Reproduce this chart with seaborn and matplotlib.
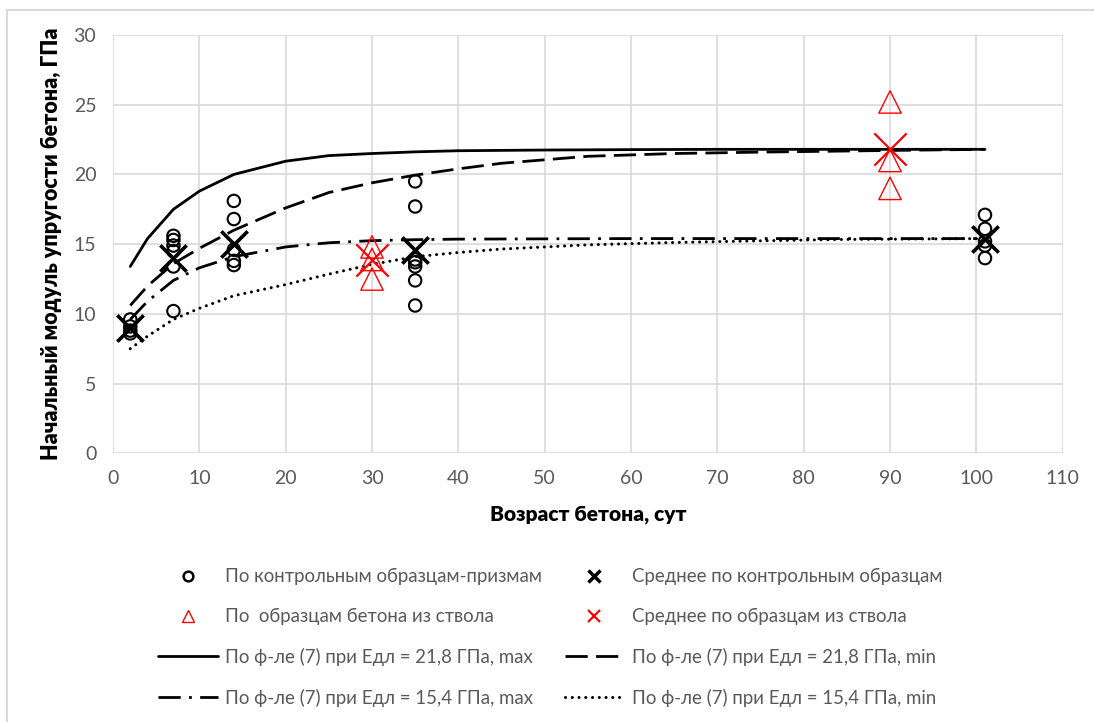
import numpy as np
import pandas as pd
import matplotlib
matplotlib.use("Agg")
import matplotlib.pyplot as plt
from matplotlib.lines import Line2D
import seaborn as sns

# control prisms: age (days) and modulus (GPa)
ctrl_age = [2, 2, 2, 2,
            7, 7, 7, 7, 7, 7,
            14, 14, 14, 14, 14,
            35, 35, 35, 35, 35, 35, 35,
            101, 101, 101, 101, 101]
ctrl_E = [9.6, 9.1, 8.8, 8.6,
          15.6, 15.3, 14.9, 14.5, 13.4, 10.2,
          18.1, 16.8, 14.6, 13.8, 13.5,
          19.5, 17.7, 13.9, 13.7, 13.4, 12.4, 10.6,
          17.1, 16.1, 15.2, 14.9, 14.0]
ctrl_mean_age = [2, 7, 14, 35, 101]
ctrl_mean_E = [9.0, 14.0, 15.0, 14.6, 15.4]

# samples from the shaft
trunk_age = [30, 30, 30, 90, 90, 90]
trunk_E = [14.8, 13.9, 12.5, 25.2, 21.0, 19.0]
trunk_mean_age = [30, 90]
trunk_mean_E = [13.85, 21.8]

# formula (7) curves
c218max_x = [2, 4, 7, 10, 14, 20, 25, 30, 35, 40, 50, 60, 70, 80, 90, 101]
c218max_y = [13.4, 15.4, 17.5, 18.8, 20.0, 20.95, 21.35, 21.5, 21.62, 21.7,
             21.75, 21.78, 21.8, 21.8, 21.8, 21.8]
c218min_x = [2, 4, 7, 10, 14, 20, 25, 30, 35, 40, 45, 50, 55, 65, 75, 90, 101]
c218min_y = [10.6, 12.0, 13.6, 14.7, 16.0, 17.6, 18.7, 19.4, 19.95, 20.4,
             20.8, 21.05, 21.3, 21.5, 21.6, 21.72, 21.8]
c154max_x = [2, 4, 7, 10, 14, 20, 25, 30, 35, 40, 50, 60, 70, 80, 90, 101]
c154max_y = [9.6, 10.9, 12.4, 13.3, 14.1, 14.8, 15.1, 15.25, 15.32, 15.36,
             15.38, 15.4, 15.4, 15.4, 15.4, 15.4]
c154min_x = [2, 4, 7, 10, 14, 20, 25, 30, 35, 40, 45, 55, 65, 75, 85, 101]
c154min_y = [7.5, 8.4, 9.6, 10.4, 11.3, 12.1, 12.85, 13.55, 14.1, 14.4,
             14.65, 14.95, 15.12, 15.24, 15.34, 15.4]

labels = [
    "По контрольным образцам-призмам",
    "Среднее по контрольным образцам",
    "По  образцам бетона из ствола",
    "Среднее по образцам из ствола",
    "По ф-ле (7) при Едл = 21,8 ГПа, max",
    "По ф-ле (7) при Едл = 21,8 ГПа, min",
    "По ф-ле (7) при Едл = 15,4 ГПа, max",
    "По ф-ле (7) при Едл = 15,4 ГПа, min",
]

sns.set_theme(style="white")
plt.rcParams['font.family'] = ['Lato', 'DejaVu Sans']

grey = "#595959"
grid = "#d9d9d9"

fig = plt.figure(figsize=(10.94, 7.22), dpi=100)
ax = fig.add_axes([113 / 1094, 1 - 453.3 / 722, (1062.7 - 113) / 1094, (453.3 - 35) / 722])

dash_long = (0, (8, 3))
dash_dot = (0, (8, 3, 1, 3))
dots = (0, (0.01, 2.2))

# curves
sns.lineplot(x=c218max_x, y=c218max_y, ax=ax, color="black", lw=2.0, zorder=3)
sns.lineplot(x=c218min_x, y=c218min_y, ax=ax, color="black", lw=2.0, linestyle=dash_long, zorder=3)
sns.lineplot(x=c154max_x, y=c154max_y, ax=ax, color="black", lw=2.0, linestyle=dash_dot, zorder=3)
sns.lineplot(x=c154min_x, y=c154min_y, ax=ax, color="black", lw=2.2, linestyle=dots,
             dash_capstyle="round", zorder=3)

# points
sns.scatterplot(x=ctrl_age, y=ctrl_E, ax=ax, marker="o", s=80, fc="none", ec="black",
                linewidth=1.5, zorder=4)
sns.scatterplot(x=ctrl_mean_age, y=ctrl_mean_E, ax=ax, marker="x", s=360, color="black",
                linewidth=2.6, zorder=5)
sns.scatterplot(x=trunk_age, y=trunk_E, ax=ax, marker="^", s=260, fc="none", ec="red",
                linewidth=1.0, zorder=4)
sns.scatterplot(x=trunk_mean_age, y=trunk_mean_E, ax=ax, marker="x", s=540, color="red",
                linewidth=1.6, zorder=5)

ax.set_xlim(0, 110)
ax.set_ylim(0, 30)
ax.set_xticks(range(0, 111, 10))
ax.set_yticks(range(0, 31, 5))
ax.grid(True, color=grid, lw=1.2)
for s in ax.spines.values():
    s.set_visible(False)
ax.tick_params(axis="both", length=0, labelsize=14, colors=grey)
ax.tick_params(axis="x", pad=12)
ax.tick_params(axis="y", pad=12)
ax.set_axisbelow(True)

ax.set_xlabel("Возраст бетона, сут", fontsize=15, fontweight="heavy", color="black", labelpad=13)
ax.set_ylabel("Начальный модуль упругости бетона, ГПа", fontsize=15.5, fontweight="heavy",
              color="black", labelpad=8)

handles = [
    Line2D([], [], ls="none", marker="o", ms=7, mfc="none", mec="black", mew=1.8),
    Line2D([], [], ls="none", marker="^", ms=8, mfc="none", mec="red", mew=1.0),
    Line2D([], [], color="black", lw=2.0),
    Line2D([], [], color="black", lw=2.0, ls=dash_dot),
    Line2D([], [], ls="none", marker="x", ms=8, mec="black", mew=2.5),
    Line2D([], [], ls="none", marker="x", ms=8, mec="red", mew=1.6),
    Line2D([], [], color="black", lw=2.0, ls=dash_long),
    Line2D([], [], color="black", lw=2.2, ls=dots, dash_capstyle="round"),
]
order = [0, 2, 4, 6, 1, 3, 5, 7]
leg = fig.legend(handles, [labels[i] for i in order], ncol=2, loc="center",
                 bbox_to_anchor=(0.503, 0.117), frameon=False, fontsize=13.4,
                 handlelength=3.2, handletextpad=0.4, columnspacing=1.2,
                 labelspacing=1.22, labelcolor=grey)

# chart border (Excel chart area)
fig.add_artist(Line2D([7 / 1094, 1.0], [1 - 10 / 722, 1 - 10 / 722], transform=fig.transFigure,
                      color=grid, lw=1.5))
fig.add_artist(Line2D([7 / 1094, 7 / 1094], [0, 1 - 10 / 722], transform=fig.transFigure,
                      color=grid, lw=1.5))

fig.savefig("out.png", dpi=100, facecolor="white")
